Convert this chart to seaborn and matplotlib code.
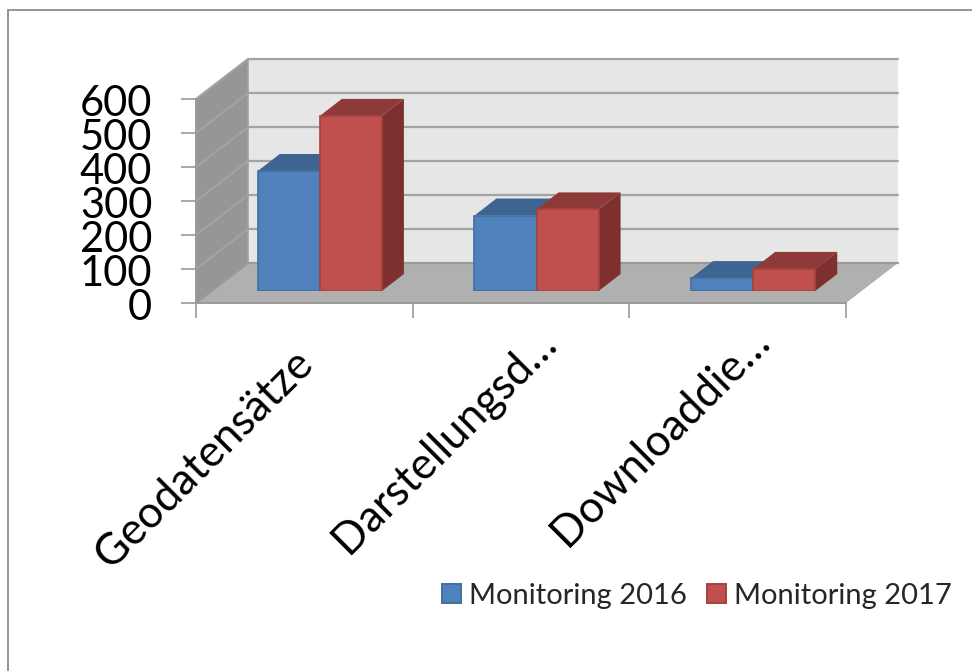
import matplotlib
matplotlib.use("Agg")
import matplotlib.pyplot as plt
from matplotlib.lines import Line2D
from matplotlib.patches import Polygon
from matplotlib.transforms import ScaledTranslation
import pandas as pd
import seaborn as sns

categories = ["Geodatensätze", "Darstellungsd…", "Downloaddie…"]
series_names = ["Monitoring 2016", "Monitoring 2017"]
values_2016 = [353, 222, 38]
values_2017 = [515, 240, 65]
y_ticks = [0, 100, 200, 300, 400, 500, 600]
label_shift_px = [(-12, 2), (14, 23), (11, 25)]

BLUE, RED = "#4F81BD", "#C0504D"
BLUE_TOP, RED_TOP = "#3E6592", "#8E3A38"
BLUE_SIDE, RED_SIDE = "#35577F", "#7D302E"
BLUE_EDGE, RED_EDGE = "#41719F", "#A5423F"
GRID = "#A3A3A3"

W, H = 972, 671
sns.set_theme(style="white")
plt.rcParams["font.family"] = ["Lato", "DejaVu Sans"]
fig = plt.figure(figsize=(W / 100, H / 100), dpi=100)


def rect(left, top, right, bottom):
    return [left / W, 1 - bottom / H, (right - left) / W, (bottom - top) / H]


# front plane of the chart box
ax = fig.add_axes(rect(196, 99, 846, 303))
ax.set_xlim(-0.5, 2.5)
ax.set_ylim(0, 600)
ax.patch.set_visible(False)
PX_X = 3 / 650
PX_Y = 600 / 204
wall_dx, wall_dy = 52 * PX_X, 40 * PX_Y
xl, xr = -0.5, 2.5
ymax = 600


def poly(a, pts, color, z):
    a.add_patch(Polygon(pts, closed=True, facecolor=color, edgecolor=color,
                        linewidth=0.0, clip_on=False, zorder=z))


poly(ax, [(xl + wall_dx, wall_dy), (xr + wall_dx, wall_dy), (xr + wall_dx, ymax + wall_dy),
          (xl + wall_dx, ymax + wall_dy)], "#E6E6E6", 1)
poly(ax, [(xl, 0), (xl + wall_dx, wall_dy), (xl + wall_dx, ymax + wall_dy), (xl, ymax)], "#969696", 1)
poly(ax, [(xl, 0), (xr, 0), (xr + wall_dx, wall_dy), (xl + wall_dx, wall_dy)], "#B0B0B0", 1)
for t in y_ticks:
    ax.plot([xl, xl + wall_dx, xr + wall_dx], [t, t + wall_dy, t + wall_dy], color=GRID if t else "#9A9A9A",
            lw=1.6, clip_on=False, zorder=2, solid_joinstyle="miter")
ax.plot([xl + wall_dx, xl + wall_dx], [wall_dy, ymax + wall_dy], color=GRID, lw=1.2, clip_on=False, zorder=2)

for side in ["top", "right"]:
    ax.spines[side].set_visible(False)
for side in ["left", "bottom"]:
    ax.spines[side].set_color("#9A9A9A")
    ax.spines[side].set_linewidth(1.4)
ax.set_yticks(y_ticks)
ax.set_yticklabels([str(t) for t in y_ticks])
ax.tick_params(axis="y", length=10.5, width=1.2, color="#9A9A9A", labelsize=30, pad=21,
               labelcolor="black", left=True)
ax.set_xticks([-0.5, 0.5, 1.5, 2.5])
ax.set_xticklabels([])
ax.set_xticks([0, 1, 2], minor=True)
ax.set_xticklabels(categories, minor=True, rotation=45, ha="right", rotation_mode="anchor")
ax.tick_params(axis="x", which="major", length=11, width=1.2, color="#9A9A9A", bottom=True)
ax.tick_params(axis="x", which="minor", length=0, labelsize=31.5, pad=30, labelcolor="black")

for label, (sx, sy) in zip(ax.get_xticklabels(minor=True), label_shift_px):
    label.set_transform(label.get_transform() + ScaledTranslation(sx / 100, sy / 100, fig.dpi_scale_trans))
for label in ax.get_yticklabels():
    label.set_transform(label.get_transform() + ScaledTranslation(0, -2 / 100, fig.dpi_scale_trans))

# bars stand on a plane shifted into the depth of the floor
ax_bar = fig.add_axes(rect(196 + 15.5, 99 - 12, 846 + 15.5, 303 - 12), zorder=3)
df = pd.DataFrame({
    "Kategorie": categories * 2,
    "Wert": values_2016 + values_2017,
    "Serie": [series_names[0]] * 3 + [series_names[1]] * 3,
})
sns.barplot(data=df, x="Kategorie", y="Wert", hue="Serie", hue_order=series_names,
            palette=[BLUE, RED], width=0.573, saturation=1, ax=ax_bar, linewidth=1.2,
            edgecolor=BLUE_EDGE)
ax_bar.set_xlim(-0.5, 2.5)
ax_bar.set_ylim(0, 600)
ax_bar.patch.set_visible(False)
for s in ax_bar.spines.values():
    s.set_visible(False)
ax_bar.set_xlabel("")
ax_bar.set_ylabel("")
ax_bar.set_xticks([])
ax_bar.set_yticks([])

bar_dx, bar_dy = 22 * PX_X, 17 * PX_Y
styles = [(BLUE_TOP, BLUE_SIDE, BLUE_EDGE), (RED_TOP, RED_SIDE, RED_EDGE)]
for i, container in enumerate(ax_bar.containers):
    top_c, side_c, edge_c = styles[i]
    base = 2 + 3 * i
    for bar in container:
        x0, w, h = bar.get_x(), bar.get_width(), bar.get_height()
        poly(ax_bar, [(x0 + w, 0), (x0 + w + bar_dx, bar_dy), (x0 + w + bar_dx, h + bar_dy), (x0 + w, h)],
             side_c, base)
        poly(ax_bar, [(x0, h), (x0 + w, h), (x0 + w + bar_dx, h + bar_dy), (x0 + bar_dx, h + bar_dy)],
             top_c, base)
        bar.set_zorder(base + 1)
        bar.set_edgecolor(edge_c)

sns.move_legend(ax_bar, loc="center left", bbox_to_anchor=(433 / W, 1 - 596 / H),
                bbox_transform=fig.transFigure, ncol=2, title=None, frameon=False,
                fontsize=21, handlelength=0.65, handleheight=0.65, handletextpad=0.28,
                columnspacing=0.68, borderaxespad=0, borderpad=0.3)
legend = ax_bar.get_legend()
for handle, ec in zip(legend.legend_handles, [BLUE_EDGE, RED_EDGE]):
    handle.set_edgecolor(ec)
    handle.set_linewidth(1.4)

# outer chart frame: only its left and top edges lie inside the picture
fig.add_artist(Line2D([8 / W, 8 / W, 1], [0, 1 - 10 / H, 1 - 10 / H], transform=fig.transFigure,
                      color="#8C8C8C", linewidth=1.3, solid_joinstyle="miter"))

fig.savefig("out.png", dpi=100)
